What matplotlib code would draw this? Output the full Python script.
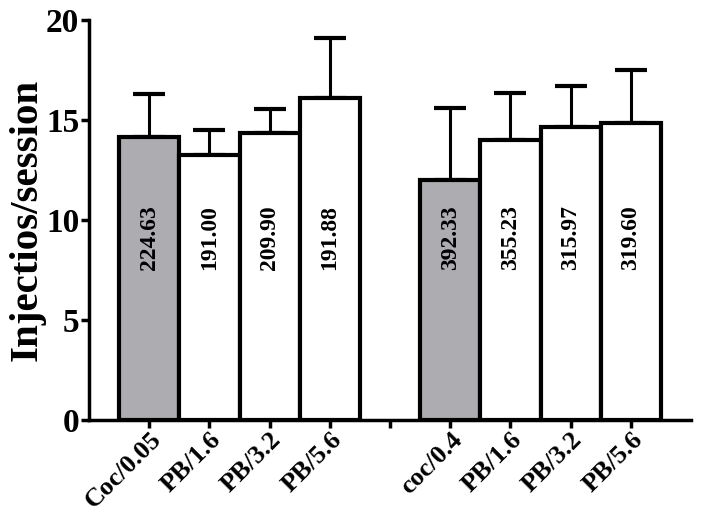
import matplotlib
matplotlib.use("Agg")
import matplotlib.pyplot as plt
import numpy as np

# valores
etiquetas = ["Coc/0.05", "PB/1.6", "PB/3.2", "PB/5.6", "",
             "coc/0.4", "PB/1.6", "PB/3.2", "PB/5.6"]
posiciones = [1, 2, 3, 4, 6, 7, 8, 9]
medias = [14.15, 13.25, 14.35, 16.1, 12.0, 14.0, 14.65, 14.85]
errores = [2.15, 1.25, 1.2, 3.0, 3.6, 2.35, 2.05, 2.65]
textos = ["224.63", "191.00", "209.90", "191.88",
          "392.33", "355.23", "315.97", "319.60"]
colores = ["#ADADB1", "white", "white", "white",
           "#ADADB1", "white", "white", "white"]

plt.rcParams["font.family"] = ["Liberation Serif", "DejaVu Serif"]
plt.rcParams["font.weight"] = "bold"

fig = plt.figure(figsize=(7.01, 5.14), dpi=100)
ax = fig.add_axes([89 / 701, (514 - 419.5) / 514, (691 - 89) / 701, (419.5 - 20.5) / 514])

ax.errorbar(posiciones, medias, yerr=[np.zeros(len(errores)), errores], fmt="none",
            ecolor="black", elinewidth=2.2, capsize=11.5, capthick=3, zorder=1)
ax.bar(posiciones, medias, width=1.0, color=colores, edgecolor="black",
       linewidth=3, zorder=2)

for x, t in zip(posiciones, textos):
    ax.text(x, 7.5, t, rotation=90, ha="center", va="bottom",
            fontsize=17, fontweight="bold", zorder=3)

ax.set_xlim(0, 10)
ax.set_ylim(0, 20)
ax.set_yticks([0, 5, 10, 15, 20])
ax.set_xticks(range(1, 10))
ax.set_xticklabels(etiquetas, rotation=45, ha="right", rotation_mode="anchor",
                   fontsize=19, fontweight="bold")
for lab in ax.get_yticklabels():
    lab.set_fontsize(24)
    lab.set_fontweight("bold")
ax.set_ylabel("Injectios/session", fontsize=29.5, fontweight="bold")
ax.yaxis.set_label_coords(-0.072, 0.5)

ax.spines["top"].set_visible(False)
ax.spines["right"].set_visible(False)
ax.spines["left"].set_linewidth(2.5)
ax.spines["bottom"].set_linewidth(2.5)
ax.tick_params(axis="y", length=6, width=2.5, pad=1)
ax.tick_params(axis="x", length=6, width=2.5, pad=0)

fig.savefig("out.png", dpi=100)
